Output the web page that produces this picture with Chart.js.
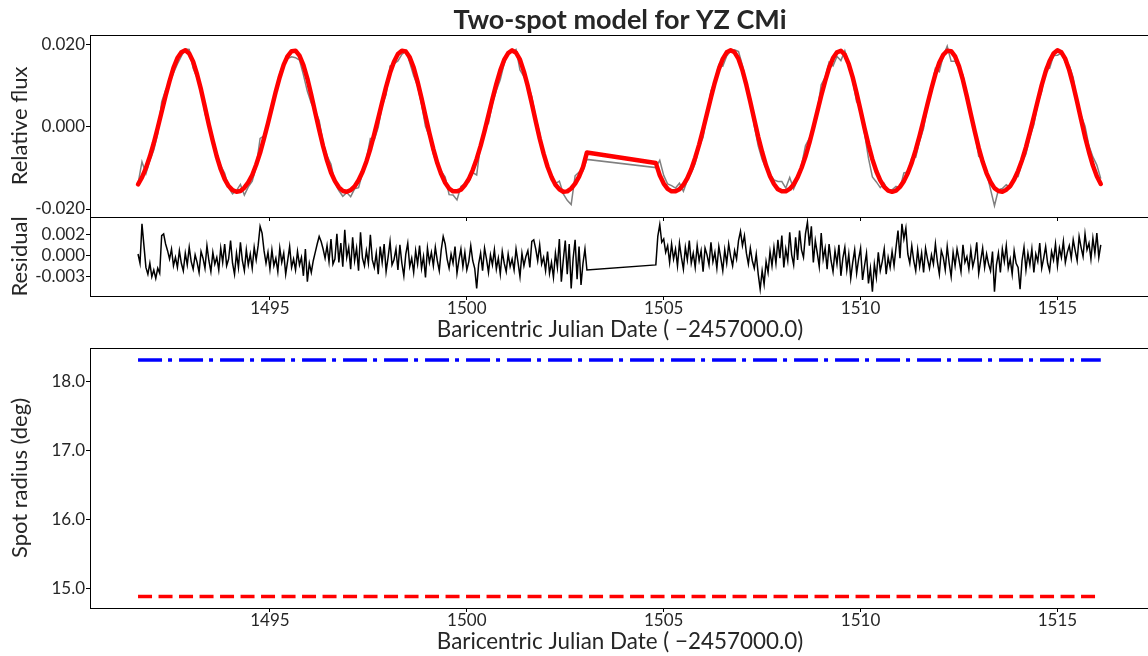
<!DOCTYPE html>
<html><head><meta charset="utf-8">
<script src="https://cdn.jsdelivr.net/npm/chart.js@4.4.1/dist/chart.umd.min.js"></script>
<style>
html,body{margin:0;padding:0;background:#fff;overflow:hidden;width:1148px;height:656px;}
canvas{position:absolute;left:0;top:0;}
</style></head><body>
<canvas id="cFlux" width="1152" height="656"></canvas>
<canvas id="cRes" width="1152" height="656"></canvas>
<canvas id="cSpot" width="1152" height="656"></canvas>
<script>
// ---------------- data ----------------
const seg1Start = 1491.65;      // first time stamp, first TESS orbit
const seg2Start = 1504.80;      // first time stamp, second TESS orbit
const modelCadence = 0.1;       // days between model/flux samples
const residualCadence = 0.05;   // days between residual samples

// model relative flux, units of 1e-4
const fluxModelSeg1 = [-140,-123,-100,-72,-39,-2,37,76,112,144,168,182,
 187,179,159,128,91,48,5,-35,-72,-103,-127,-144,-154,-158,
 -156,-148,-135,-117,-92,-63,-28,9,48,87,122,152,173,185,
 186,174,151,118,78,35,-7,-47,-82,-111,-132,-147,-156,-158,
 -154,-145,-130,-110,-84,-53,-17,21,60,98,132,159,178,186,
 184,170,145,110,70,27,-15,-54,-88,-115,-136,-150,-157,
 -157,-153,-142,-127,-105,-78,-46,-10,29,68,105,138,164,180,187,
 181,164,135,99,57,14,-28,-65,-97,-122,-141,-152,-158,
 -157,-150,-138,-121,-98,-62];
const fluxModelSeg2 = [-88,-118,-138,-151,-157,
 -157,-152,-141,-125,-103,-75,-43,-6,33,72,109,141,166,182,187,
 182,166,138,102,61,18,-24,-61,-94,-120,-139,-152,-157,
 -157,-151,-140,-123,-100,-72,-39,-2,37,76,112,144,168,182,
 186,176,153,121,82,40,-3,-43,-79,-108,-130,-146,-155,-158,
 -155,-146,-132,-112,-87,-56,-21,17,56,94,129,157,176,186,
 185,172,148,114,74,31,-11,-51,-85,-113,-134,-149,-156,-158,
 -153,-144,-128,-107,-81,-49,-13,25,64,102,135,161,179,187,
 182,166,138,102,61,18,-24,-61,-94,-120,-139];

// residual (observed - model), units of 1e-4
const residualSeg1 = [2,-9,38,12,-14,-22,-9,-25,-17,-27,
 -15,-21,24,26,14,6,-4,8,-12,-2,
 -14,6,-9,-18,3,-11,10,-7,-16,1,
 -8,-20,5,-3,-15,12,-6,-19,4,-10,
 -2,-17,9,-8,14,-12,-4,18,-9,-22,
 3,-14,16,-6,-18,7,-11,2,-15,10,
 -5,12,35,27,6,-9,4,-16,7,-12,
 -3,-19,9,-8,3,-22,-6,11,-14,-4,
 -17,5,-11,-2,-24,8,-31,-9,-20,-6,
 4,14,23,17,8,-3,12,-7,20,-10,
 -4,26,-8,15,-13,31,-2,10,-16,22,
 -6,9,-18,28,-3,-12,6,-9,25,-5,
 -14,3,-22,11,-8,14,-19,-2,17,-11,
 -5,8,-17,13,-9,-24,2,15,-13,-3,
 -20,6,-10,12,-15,-1,-26,9,-8,4,
 -12,10,-6,-18,7,23,14,-4,-15,2,
 -9,11,-21,-5,8,-13,4,-17,-7,12,
 -6,-15,-39,-10,3,-18,9,-4,-20,1,
 -11,7,-16,-3,-22,5,-9,-19,2,-13,
 -4,-17,8,-8,-25,3,-12,-1,6,-14,
 17,19,8,-6,13,-10,-2,-18,5,-21,
 -8,-26,3,-14,20,-31,-5,18,-22,14,
 -39,-3,19,-28,11,-35,-9,8,-17];
const residualSeg2 = [-11,23,37,16,20,4,12,-8,14,-4,
 8,-12,15,-2,-16,10,-5,18,-9,3,
 -14,12,-6,6,-19,9,1,-11,16,-7,
 4,-15,11,-3,-18,7,-9,14,-1,-12,
 6,-4,18,29,12,24,3,-10,9,-6,
 -15,2,-22,-40,-18,-34,-7,-20,5,-12,
 10,-9,19,-3,24,-14,8,-6,28,1,
 -11,22,-5,30,7,-2,26,40,12,35,
 -8,18,3,-13,27,-4,9,-16,14,-6,
 -19,6,-10,13,-24,-3,10,-17,2,-27,
 -8,7,-21,-4,9,-29,-12,3,-33,-15,
 -43,-10,-26,4,-18,-7,8,-22,-2,-14,
 5,-12,10,30,-3,38,20,33,2,-9,
 12,-6,-18,7,-13,3,-20,9,-4,-15,
 1,-10,14,-7,-22,6,-2,-17,11,-9,
 -25,4,-12,8,-5,-19,13,-8,-1,-16,
 7,-13,-3,16,-21,-6,9,-14,2,-10,
 -18,5,-43,-11,3,-20,8,-7,12,-15,
 -4,-22,6,-9,-14,-40,-6,10,-17,3,
 -11,8,-20,2,-7,15,-15,-3,11,-9,
 -18,5,-5,14,-12,9,-2,17,-8,4,
 12,-3,19,6,-6,23,10,-1,26,7,
 15,-4,21,3,27,-2,13];

// spot radii (deg), constant over the fit
const spotTimes = [1491.65, 1516.10];
const spot1Radius = [18.31, 18.31];
const spot2Radius = [14.89, 14.89];

// tick labels
const xTickValues = [1495, 1500, 1505, 1510, 1515];
const xTickLabels = ['1495', '1500', '1505', '1510', '1515'];
const fluxTickValues = [-0.02, 0, 0.02];
const fluxTickLabels = ['-0.020', '0.000', '0.020'];
const residualTickValues = [-0.0025, 0, 0.0025];
const residualTickLabels = ['-0.003', '0.000', '0.002'];
const radiusTickValues = [15, 16, 17, 18];
const radiusTickLabels = ['15.0', '16.0', '17.0', '18.0'];

// ---------------- build tables ----------------
const UNIT = 1e-4;
function timeAt(start, step, i) { return Math.round((start + i * step) * 1000) / 1000; }
const modelPts = [], obsPts = [], residPts = [];
[[seg1Start, fluxModelSeg1, residualSeg1], [seg2Start, fluxModelSeg2, residualSeg2]].forEach(([st, mod, res]) => {
  mod.forEach((m, j) => {
    const t = timeAt(st, modelCadence, j);
    modelPts.push({x: t, y: m * UNIT});
    obsPts.push({x: t, y: (m + res[2 * j]) * UNIT});
  });
  res.forEach((r, i) => residPts.push({x: timeAt(st, residualCadence, i), y: r * UNIT}));
});
const spot1Pts = spotTimes.map((t, i) => ({x: t, y: spot1Radius[i]}));
const spot2Pts = spotTimes.map((t, i) => ({x: t, y: spot2Radius[i]}));

// ---------------- styling ----------------
const FONT = 'Lato, "DejaVu Sans", sans-serif';
const TEXT = '#262626';
Chart.defaults.font.family = FONT;
Chart.defaults.color = TEXT;

const X_MIN = 1490.43, X_MAX = 1517.35;
const H = 656;
const X_AXIS_H = 45.4;   // tick 4 + label 17 + title 22.4 + title pad 2

const framePlugin = {
  id: 'frame',
  afterDraw(chart) {
    const {ctx, chartArea: a} = chart;
    ctx.save();
    ctx.strokeStyle = '#000';
    ctx.lineWidth = 1;
    ctx.strokeRect(Math.round(a.left) + 0.5, Math.round(a.top) + 0.5, Math.round(a.right - a.left), Math.round(a.bottom - a.top));
    ctx.restore();
  }
};

function fixY(w) { return s => { s.width = w; s.paddingTop = 0; s.paddingBottom = 0; s.paddingLeft = 0; s.paddingRight = 0; }; }
function fixX(h) { return s => { s.height = h; s.paddingLeft = 0; s.paddingRight = 0; s.paddingTop = 0; s.paddingBottom = 0; }; }
function setTicks(vals) { return s => { s.ticks = vals.map(v => ({value: v})); }; }

function xScale(showLabels, h) {
  return {
    type: 'linear', min: X_MIN, max: X_MAX,
    afterBuildTicks: setTicks(xTickValues),
    afterFit: fixX(h),
    border: {display: false},
    grid: {drawOnChartArea: false, drawTicks: true, tickLength: 4, color: '#000', tickWidth: 1},
    ticks: {display: showLabels, autoSkip: false, maxRotation: 0, padding: 0,
      font: {size: 17, lineHeight: 1.0}, color: TEXT,
      callback: (v, i) => xTickLabels[i]},
    title: {display: showLabels, text: 'Baricentric Julian Date ( \u22122457000.0)',
      font: {size: 22.4, lineHeight: 1.0}, color: TEXT, padding: {top: 2, bottom: 0}}
  };
}
function yScale(min, max, vals, labels, titleText) {
  return {
    min: min, max: max,
    afterBuildTicks: setTicks(vals),
    afterFit: fixY(90),
    border: {display: false},
    grid: {drawOnChartArea: false, drawTicks: true, tickLength: 4, color: '#000', tickWidth: 1},
    ticks: {padding: 1, font: {size: 17}, color: TEXT, callback: (v, i) => labels[i]},
    title: {display: true, text: titleText, font: {size: 22}, color: TEXT, padding: {top: 7, bottom: 0}}
  };
}
const base = {
  responsive: false, animation: false, events: [],
  plugins: {legend: {display: false}, tooltip: {enabled: false}},
  elements: {point: {radius: 0}, line: {tension: 0}}
};

// ---------------- panel 1: flux ----------------
new Chart(document.getElementById('cFlux'), {
  type: 'line',
  data: {datasets: [
    {label: 'Model', data: modelPts, borderColor: '#ff0000', borderWidth: 4.5, order: 0,
     borderCapStyle: 'round', borderJoinStyle: 'round'},
    {label: 'Observed', data: obsPts, borderColor: '#808080', borderWidth: 1.5, order: 1}
  ]},
  options: Object.assign({}, base, {
    layout: {padding: {left: 0, right: 2, top: 0, bottom: H - 217 - 4}},
    plugins: {legend: {display: false}, tooltip: {enabled: false},
      title: {display: true, text: 'Two-spot model for YZ CMi', fullSize: false, color: TEXT,
        font: {size: 27, weight: 'bold', lineHeight: 1.0}, padding: {top: 6.5, bottom: 1.5}}},
    scales: {
      x: xScale(false, 4),
      y: yScale(-0.02195, 0.02243, fluxTickValues, fluxTickLabels, 'Relative flux')
    }
  }),
  plugins: [framePlugin]
});

// ---------------- panel 2: residual ----------------
new Chart(document.getElementById('cRes'), {
  type: 'line',
  data: {datasets: [
    {label: 'Residual', data: residPts, borderColor: '#000000', borderWidth: 1.5}
  ]},
  options: Object.assign({}, base, {
    layout: {padding: {left: 0, right: 2, top: 217, bottom: H - 296 - X_AXIS_H}},
    scales: {
      x: xScale(true, X_AXIS_H),
      y: yScale(-0.00481, 0.00462, residualTickValues, residualTickLabels, 'Residual')
    }
  }),
  plugins: [framePlugin]
});

// ---------------- panel 3: spot radii ----------------
new Chart(document.getElementById('cSpot'), {
  type: 'line',
  data: {datasets: [
    {label: 'Spot 1', data: spot1Pts, borderColor: '#0000ff', borderWidth: 3.5, borderDash: [24, 6, 4, 7], borderCapStyle: 'butt'},
    {label: 'Spot 2', data: spot2Pts, borderColor: '#ff0000', borderWidth: 3.5, borderDash: [14, 6.5], borderCapStyle: 'butt'}
  ]},
  options: Object.assign({}, base, {
    layout: {padding: {left: 0, right: 2, top: 348, bottom: H - 608 - X_AXIS_H}},
    scales: {
      x: xScale(true, X_AXIS_H),
      y: yScale(14.725, 18.483, radiusTickValues, radiusTickLabels, 'Spot radius (deg)')
    }
  }),
  plugins: [framePlugin]
});
</script>
</body></html>
